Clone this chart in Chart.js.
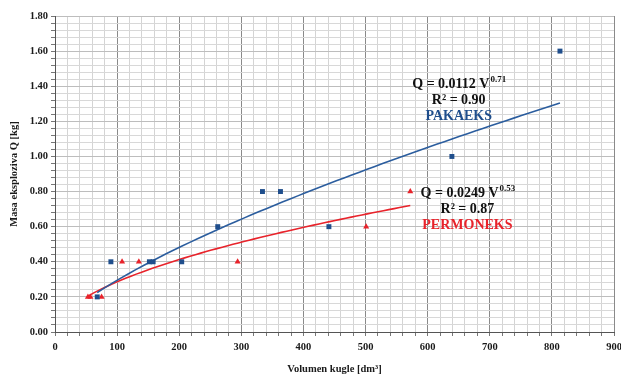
<!DOCTYPE html>
<html>
<head>
<meta charset="utf-8">
<script src="https://cdn.jsdelivr.net/npm/chart.js@4"></script>
<style>
  html, body { margin: 0; padding: 0; background: #fff; }
  #wrap { width: 621px; height: 376px; }
</style>
</head>
<body>
<div id="wrap"><canvas id="chart" width="621" height="376"></canvas></div>
<script>
const pakaeksV = [68, 90, 152, 158, 204, 262, 334, 363, 441, 639, 813]
const pakaeksQ = [0.2, 0.4, 0.4, 0.4, 0.4, 0.6, 0.8, 0.8, 0.6, 1.0, 1.6]
const permoneksV = [53, 57, 75, 108, 135, 294, 501, 572]
const permoneksQ = [0.2, 0.2, 0.2, 0.4, 0.4, 0.4, 0.6, 0.8]

// printed power trendlines Q = a * V^b
const pakaeksFit = { a: 0.0112, b: 0.71, r2: '0.90' }
const permoneksFit = { a: 0.0249, b: 0.53, r2: '0.87' }

const blue = '#1f4e8c'
const red = '#e8232b'
const serif = '"Liberation Serif", "Times New Roman", serif'

function toPoints(xs, ys) {
    return xs.map((x, i) => ({ x: x, y: ys[i] }))
}

// sample the printed trendline between the first and last measured V
function trendPoints(xs, fit) {
    const lo = Math.min(...xs), hi = Math.max(...xs)
    const pts = []
    for (let i = 0; i <= 60; i++) {
        const v = lo + (hi - lo) * i / 60
        pts.push({ x: v, y: fit.a * Math.pow(v, fit.b) })
    }
    return pts
}

// equation labels, anchored in data units
const labels = [
    { x: 650, y: 1.41, fit: pakaeksFit, name: 'PAKAEKS', color: blue },
    { x: 664, y: 0.79, fit: permoneksFit, name: 'PERMONEKS', color: red }
]

const isMult = (v, step) => Math.abs(v / step - Math.round(v / step)) < 1e-6

const equationPlugin = {
    id: 'equations',
    afterDatasetsDraw(chart) {
        const { ctx, scales } = chart
        ctx.save()
        ctx.textBaseline = 'middle'
        labels.forEach(l => {
            const cx = scales.x.getPixelForValue(l.x)
            const cy = scales.y.getPixelForValue(l.y)
            const main = 'Q = ' + l.fit.a.toFixed(4) + ' V'
            const sup = l.fit.b.toFixed(2)
            ctx.font = 'bold 14px ' + serif
            const w1 = ctx.measureText(main).width
            ctx.font = 'bold 9px ' + serif
            const w2 = ctx.measureText(sup).width
            const x0 = cx - (w1 + w2) / 2
            ctx.fillStyle = '#111'
            ctx.textAlign = 'left'
            ctx.font = 'bold 14px ' + serif
            ctx.fillText(main, x0, cy)
            ctx.font = 'bold 9px ' + serif
            ctx.fillText(sup, x0 + w1 + 1, cy - 5)
            ctx.textAlign = 'center'
            ctx.font = 'bold 14px ' + serif
            ctx.fillText('R² = ' + l.fit.r2, cx, cy + 16)
            ctx.fillStyle = l.color
            ctx.fillText(l.name, cx, cy + 32)
        })
        ctx.restore()
    }
}

new Chart(document.getElementById('chart'), {
    type: 'scatter',
    data: {
        datasets: [
            {
                label: 'PAKAEKS',
                data: toPoints(pakaeksV, pakaeksQ),
                pointStyle: 'rect',
                pointRadius: 3.5,
                backgroundColor: blue,
                borderColor: blue,
                borderWidth: 0,
                order: 1
            },
            {
                label: 'PERMONEKS',
                data: toPoints(permoneksV, permoneksQ),
                pointStyle: 'triangle',
                pointRadius: 3.5,
                backgroundColor: red,
                borderColor: red,
                borderWidth: 0,
                order: 1
            },
            {
                label: 'PAKAEKS fit',
                data: trendPoints(pakaeksV, pakaeksFit),
                showLine: true,
                pointRadius: 0,
                borderColor: '#2b5d9e',
                borderWidth: 1.6,
                tension: 0,
                order: 2
            },
            {
                label: 'PERMONEKS fit',
                data: trendPoints(permoneksV, permoneksFit),
                showLine: true,
                pointRadius: 0,
                borderColor: red,
                borderWidth: 1.6,
                tension: 0,
                order: 2
            }
        ]
    },
    options: {
        responsive: false,
        animation: false,
        layout: { padding: { top: 16, right: 0, left: 0, bottom: 0 } },
        plugins: {
            legend: { display: false },
            tooltip: { enabled: false }
        },
        scales: {
            x: {
                type: 'linear',
                min: 0,
                max: 900,
                afterFit: s => { s.height = 44; s.paddingRight = 7 },
                border: { color: '#555', width: 1 },
                grid: {
                    color: c => isMult(c.tick.value, 100) ? '#8a8a8a' : '#d4d4d4',
                    lineWidth: 1,
                    tickLength: 4,
                    tickColor: '#777'
                },
                ticks: {
                    stepSize: 20,
                    autoSkip: false,
                    maxRotation: 0,
                    padding: 5,
                    color: '#1a1a1a',
                    font: { family: serif, size: 10.5, weight: 'bold' },
                    callback: v => isMult(v, 100) ? String(v) : ''
                },
                title: {
                    display: true,
                    text: 'Volumen kugle [dm³]',
                    color: '#1a1a1a',
                    padding: { top: 7, bottom: 0 },
                    font: { family: serif, size: 10.5, weight: 'bold' }
                }
            },
            y: {
                min: 0,
                max: 1.8,
                afterFit: s => { s.width = 55 },
                border: { color: '#555', width: 1 },
                grid: {
                    color: c => isMult(c.tick.value, 0.2) ? '#bdbdbd' : '#d8d8d8',
                    lineWidth: 1,
                    tickLength: 4,
                    tickColor: '#777'
                },
                ticks: {
                    stepSize: 0.04,
                    autoSkip: false,
                    padding: 3,
                    color: '#1a1a1a',
                    font: { family: serif, size: 10.5, weight: 'bold' },
                    callback: v => isMult(v, 0.2) ? v.toFixed(2) : ''
                },
                title: {
                    display: true,
                    text: 'Masa eksploziva Q [kg]',
                    color: '#1a1a1a',
                    padding: { top: 8, bottom: 0 },
                    font: { family: serif, size: 10.5, weight: 'bold' }
                }
            }
        }
    },
    plugins: [equationPlugin]
})
</script>
</body>
</html>
